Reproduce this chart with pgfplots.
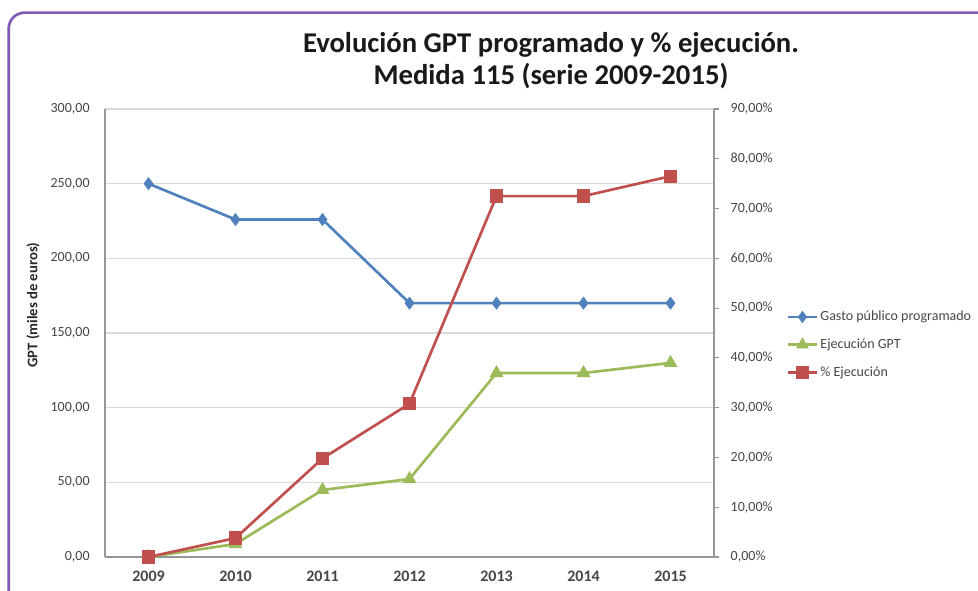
\documentclass[border=0pt]{standalone}
\usepackage{fontspec}
\setmainfont{Carlito}
\usepackage{pgfplots}
\pgfplotsset{compat=1.18}
\definecolor{gblue}{RGB}{79,129,189}
\definecolor{gred}{RGB}{192,80,77}
\definecolor{ggreen}{RGB}{155,187,89}
\definecolor{framec}{RGB}{128,90,180}
\definecolor{gridc}{RGB}{217,217,217}
\definecolor{axc}{RGB}{150,150,150}
\definecolor{tickc}{RGB}{70,70,70}
\begin{document}
\begin{tikzpicture}
\useasboundingbox (0,0) rectangle (733.5pt,442.5pt);
\clip (0,0) rectangle (733.5pt,442.5pt);
\draw[framec, line width=2pt, rounded corners=12pt] (6.5pt,433pt) rectangle (760pt,-20pt);
\node[font=\fontsize{21.5}{25}\selectfont\bfseries, text=black!90] at (413.25pt,408.75pt) {Evolución GPT programado y \% ejecución.};
\node[font=\fontsize{21.5}{25}\selectfont\bfseries, text=black!90] at (413.25pt,385.5pt) {Medida 115 (serie 2009-2015)};
\begin{axis}[
  at={(78.75pt,24.75pt)}, anchor=south west,
  width=456.75pt, height=336pt, scale only axis,
  xmin=-0.5, xmax=6.5, ymin=0, ymax=300,
  xtick={0,1,2,3,4,5,6},
  xticklabels={2009,2010,2011,2012,2013,2014,2015},
  ytick={0,50,100,150,200,250,300},
  ymajorgrids, grid style={gridc, line width=0.8pt},
  axis x line*=bottom, axis y line*=left,
  axis line style={axc, line width=0.8pt, -},
  major x tick style={draw=none},
  major y tick style={draw=none},
  x tick label style={font=\fontsize{12}{14}\selectfont\bfseries, text=tickc, yshift=-7pt},
  y tick label style={font=\fontsize{10.5}{12}\selectfont, text=tickc, xshift=-8pt},
  /pgf/number format/assume math mode=true,
  yticklabel style={/pgf/number format/.cd, use comma, fixed, fixed zerofill, precision=2, 1000 sep={}},
  ylabel={GPT (miles de euros)},
  ylabel style={font=\fontsize{11}{13}\selectfont\bfseries, text=black!85, at={(axis description cs:-0.118,0.5625)}, anchor=center},
]
\addplot[gblue, line width=2pt, mark=diamond*, mark size=3.3pt, mark options={fill=gblue, draw=gblue}]
  coordinates {(0,250) (1,226) (2,226) (3,170) (4,170) (5,170) (6,170)};
\addplot[ggreen, line width=2pt, mark=triangle*, mark size=4pt, mark options={fill=ggreen, draw=ggreen}]
  coordinates {(0,0) (1,8.7) (2,44.9) (3,52.2) (4,123.2) (5,123.2) (6,130)};
\end{axis}
\begin{axis}[
  at={(78.75pt,24.75pt)}, anchor=south west,
  width=456.75pt, height=336pt, scale only axis,
  xmin=-0.5, xmax=6.5, ymin=0, ymax=90,
  axis x line=none, axis y line*=right,
  axis line style={axc, line width=0.8pt, -},
  ytick={0,10,20,30,40,50,60,70,80,90},
  tick align=outside, major tick length=4pt,
  major y tick style={axc, line width=0.8pt},
  y tick label style={font=\fontsize{10.5}{12}\selectfont, text=tickc, xshift=5pt},
  /pgf/number format/assume math mode=true,
  yticklabel={\pgfmathprintnumber[fixed, fixed zerofill, precision=2, use comma]{\tick}\%},
  legend style={at={(axis description cs:1.1185,0.474)}, anchor=west, draw=none, fill=none,
    font=\fontsize{10.5}{12}\selectfont, text=tickc, row sep=9pt, inner sep=0pt,
    nodes={inner sep=1.5pt}},
  legend cell align=left,
  legend image code/.code={%
    \draw[#1, mark repeat=2, mark phase=2] plot coordinates {(0pt,0pt) (11pt,0pt) (22pt,0pt)};},
]
\addlegendimage{gblue, line width=2pt, mark=diamond*, mark size=3pt, mark options={fill=gblue, draw=gblue}}
\addlegendentry{Gasto público programado}
\addlegendimage{ggreen, line width=2pt, mark=triangle*, mark size=3.5pt, mark options={fill=ggreen, draw=ggreen}}
\addlegendentry{Ejecución GPT}
\addplot[gred, line width=2pt, mark=square*, mark size=4pt, mark options={fill=gred, draw=gred}]
  coordinates {(0,0) (1,3.8) (2,19.8) (3,30.8) (4,72.5) (5,72.5) (6,76.5)};
\addlegendentry{\% Ejecución}
\end{axis}
\end{tikzpicture}
\end{document}
